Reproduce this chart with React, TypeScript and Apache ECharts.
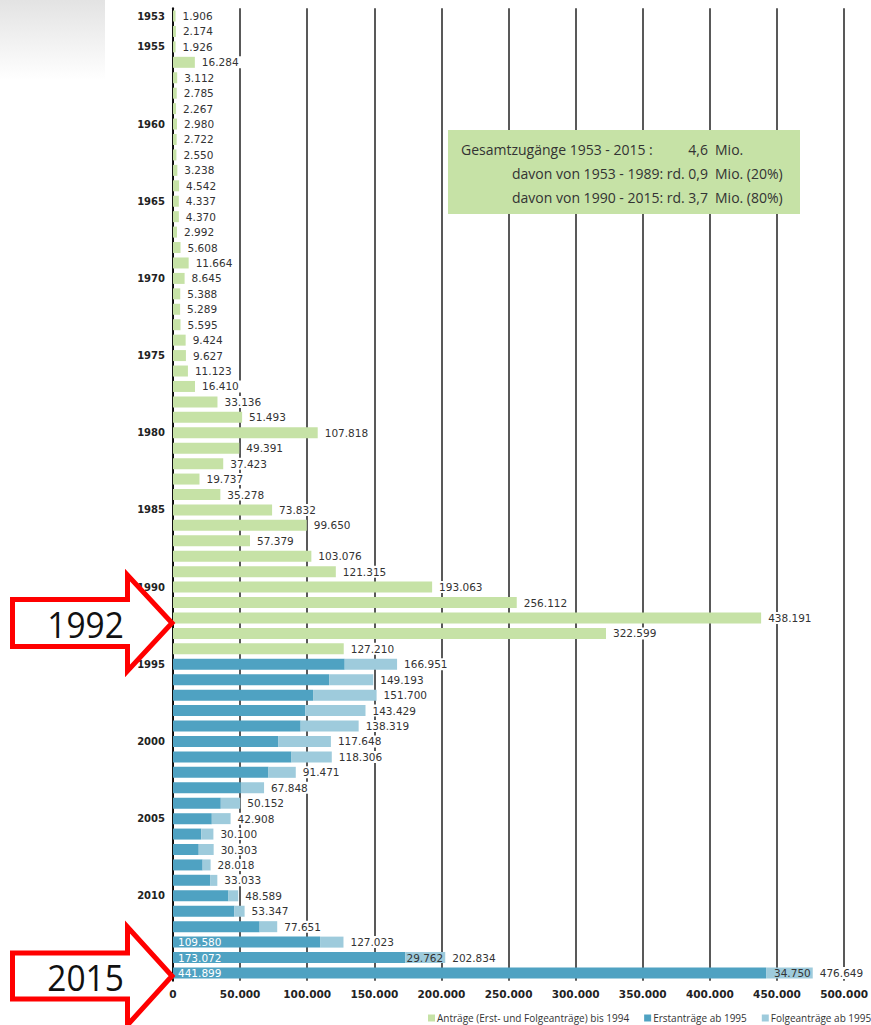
import React, { useEffect, useRef } from "react";
import * as echarts from "echarts";

// Jahre 1953-2015
const years: string[] = Array.from({ length: 63 }, (_, i) => String(1953 + i));
const shownYears = ["1953", "1955", "1960", "1965", "1970", "1975", "1980", "1985", "1990", "1995", "2000", "2005", "2010", "2015"];

// Anträge (Erst- und Folgeanträge) bis 1994 (1953-1994)
const antraegeBis1994 = [
  1906, 2174, 1926, 16284, 3112, 2785, 2267, 2980, 2722, 2550,
  3238, 4542, 4337, 4370, 2992, 5608, 11664, 8645, 5388, 5289,
  5595, 9424, 9627, 11123, 16410, 33136, 51493, 107818, 49391, 37423,
  19737, 35278, 73832, 99650, 57379, 103076, 121315, 193063, 256112, 438191,
  322599, 127210,
];

// Erstanträge ab 1995 (1995-2015)
const erstantraege = [
  127937, 116367, 104353, 98644, 95113, 78564, 88287, 71127, 50563, 35607,
  28914, 21029, 19164, 22085, 27649, 41332, 45741, 64539, 109580, 173072,
  441899,
];

// Gesamt (Erst + Folge) ab 1995 (1995-2015)
const gesamtAb1995 = [
  166951, 149193, 151700, 143429, 138319, 117648, 118306, 91471, 67848, 50152,
  42908, 30100, 30303, 28018, 33033, 48589, 53347, 77651, 127023, 202834,
  476649,
];

const folgeantraege = gesamtAb1995.map((v, i) => v - erstantraege[i]);

const xTicks = { min: 0, max: 500000, interval: 50000 };

const fmt = (n: number) => String(n).replace(/\B(?=(\d{3})+(?!\d))/g, ".");

const GREEN = "#c6e2a6";
const DARK = "#4fa2c2";
const LIGHT = "#9ecbdc";

export default function App() {
  const ref = useRef<HTMLDivElement>(null);

  useEffect(() => {
    if (!ref.current) return;
    const chart = echarts.init(ref.current, undefined, { renderer: "svg" });
    const nPre = antraegeBis1994.length;
    const nPost = erstantraege.length;
    const empty = (n: number) => Array(n).fill("-");

    const labelFont = { fontFamily: "DejaVu Sans", fontSize: 10.5, color: "#333" };

    const darkData = erstantraege.map((v, i) =>
      i >= nPost - 3
        ? { value: v, label: { show: true, position: "insideLeft", distance: 5, color: "#fff", fontFamily: "DejaVu Sans", fontSize: 10.5, formatter: () => fmt(v) } }
        : v
    );
    const lightData = folgeantraege.map((v, i) =>
      i >= nPost - 2
        ? { value: v, label: { show: true, position: "insideRight", distance: 2, color: "#333", fontFamily: "DejaVu Sans", fontSize: 10.5, formatter: () => fmt(v) } }
        : v
    );
    const totals = antraegeBis1994.concat(gesamtAb1995);

    const boxFont = "14px 'Open Sans'";
    const txt = (x: number, y: number, text: string, align: string = "left") => ({
      type: "text",
      x,
      y,
      z: 60,
      style: { text, font: boxFont, fill: "#333", align, verticalAlign: "middle" },
    });

    const arrow = (tipY: number, shaftHalf: number, headHalf: number, label: string) => [
      {
        type: "polygon",
        z: 100,
        shape: {
          points: [
            [12.5, tipY - shaftHalf],
            [127.5, tipY - shaftHalf],
            [127.5, tipY - headHalf],
            [172, tipY],
            [127.5, tipY + headHalf],
            [127.5, tipY + shaftHalf],
            [12.5, tipY + shaftHalf],
          ],
        },
        style: { fill: "#fff", stroke: "#ff0000", lineWidth: 5, lineJoin: "miter" },
      },
      {
        type: "text",
        z: 101,
        x: 80,
        y: tipY + 1,
        scaleX: 0.93,
        originX: 80,
        style: { text: label, font: "36px 'Open Sans'", fill: "#111", align: "center", verticalAlign: "middle" },
      },
    ];

    chart.setOption({
      animation: false,
      backgroundColor: "#fff",
      grid: { left: 173, right: 22, top: 8.3, bottom: 44.3, containLabel: false },
      legend: {
        data: [
          "Anträge (Erst- und Folgeanträge) bis 1994",
          "Erstanträge ab 1995",
          "Folgeanträge ab 1995",
        ],
        left: 423,
        top: 1008,
        width: 800,
        itemWidth: 7,
        itemHeight: 7,
        itemGap: 15,
        icon: "rect",
        textStyle: { fontFamily: "Liberation Sans Narrow, Open Sans", fontSize: 10, color: "#333", padding: [0, 0, 0, -3] },
        selectedMode: false,
      },
      xAxis: {
        type: "value",
        min: xTicks.min,
        max: xTicks.max,
        interval: xTicks.interval,
        axisLine: { show: false },
        axisTick: { show: false },
        splitLine: { show: true, lineStyle: { color: "#222", width: 1.5 } },
        axisLabel: {
          formatter: (v: number) => fmt(v),
          fontFamily: "DejaVu Sans",
          fontWeight: "bold",
          fontSize: 10.5,
          color: "#222",
          margin: 8,
        },
      },
      yAxis: {
        type: "category",
        data: years,
        inverse: true,
        axisLine: { show: true, lineStyle: { color: "#111", width: 2 } },
        axisTick: { show: false },
        axisLabel: {
          interval: 0,
          formatter: (v: string) => (shownYears.includes(v) ? v : ""),
          fontFamily: "DejaVu Sans",
          fontWeight: "bold",
          fontSize: 10,
          color: "#222",
          margin: 8,
        },
      },
      graphic: [
        {
          type: "rect",
          z: -10,
          shape: { x: 0, y: 0, width: 105, height: 80 },
          style: {
            fill: new echarts.graphic.LinearGradient(0, 0, 0, 1, [
              { offset: 0, color: "#e3e3e3" },
              { offset: 1, color: "#ffffff" },
            ]),
          },
        },
        {
          type: "rect",
          z: 50,
          shape: { x: 448, y: 130, width: 352, height: 84 },
          style: { fill: GREEN },
        },
        txt(461, 149, "Gesamtzugänge 1953 - 2015 :"),
        txt(708, 149, "4,6", "right"),
        txt(715, 149, "Mio."),
        txt(708, 173, "davon von 1953 - 1989: rd. 0,9", "right"),
        txt(715, 173, "Mio. (20%)"),
        txt(708, 197, "davon von 1990 - 2015: rd. 3,7", "right"),
        txt(715, 197, "Mio. (80%)"),
        ...arrow(623, 23.5, 48, "1992"),
        ...arrow(976, 23, 49, "2015"),
      ],
      series: [
        {
          name: "Anträge (Erst- und Folgeanträge) bis 1994",
          type: "bar",
          stack: "a",
          barWidth: 11,
          barGap: "-100%",
          itemStyle: { color: GREEN },
          data: antraegeBis1994.concat(empty(nPost)),
        },
        {
          name: "Erstanträge ab 1995",
          type: "bar",
          stack: "a",
          barWidth: 11,
          barGap: "-100%",
          itemStyle: { color: DARK },
          label: { show: false },
          data: empty(nPre).concat(darkData as any),
        },
        {
          name: "Folgeanträge ab 1995",
          type: "bar",
          stack: "a",
          barWidth: 11,
          barGap: "-100%",
          itemStyle: { color: LIGHT },
          label: { show: false },
          data: empty(nPre).concat(lightData as any),
        },
        {
          name: "Gesamt",
          type: "bar",
          barWidth: 11,
          barGap: "-100%",
          silent: true,
          z: 5,
          itemStyle: { color: "rgba(0,0,0,0)" },
          label: {
            show: true,
            position: "right",
            distance: 4,
            ...labelFont,
            backgroundColor: "#fff",
            padding: [1, 3, 0, 3],
            formatter: (p: any) => fmt(p.value),
          },
          data: totals,
        },
      ],
    });
    return () => chart.dispose();
  }, []);

  return (
    <div
      ref={ref}
      style={{ position: "fixed", left: 0, top: 0, width: 871, height: 1025 }}
    />
  );
}
